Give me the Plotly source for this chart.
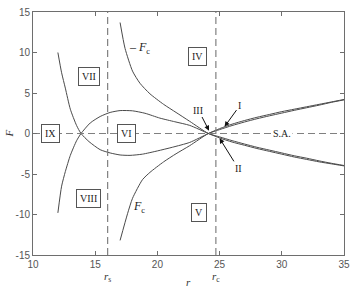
import plotly.graph_objects as go

# ---- data ----
r_A = [12.0, 12.3, 12.6, 13.0, 13.5, 13.86, 14.5, 15.4, 16.2, 17.0, 17.8, 18.8, 20.0, 21.2, 22.6, 24.1,
       25, 26, 27, 28, 29, 30, 31, 32, 33, 34, 35]
F_A = [10.0, 7.5, 5.6, 3.0, 1.0, 0.0, -1.0, -2.0, -2.4, -2.65, -2.7, -2.55, -2.15, -1.7, -1.1, 0.0,
       0.6, 1.15, 1.6, 2.0, 2.35, 2.7, 3.0, 3.3, 3.6, 3.9, 4.2]

r_B = [12.0, 12.3, 12.6, 13.0, 13.5, 13.86, 14.6, 15.4, 16.2, 17.0, 18.0, 19.0, 20.2, 21.4, 22.6, 24.1,
       25, 26, 27, 28, 29, 30, 31, 32, 33, 34, 35]
F_B = [-9.8, -6.5, -4.7, -2.7, -0.9, 0.0, 1.3, 2.1, 2.6, 2.83, 2.8, 2.5, 1.9, 1.45, 1.0, 0.0,
       -0.55, -1.05, -1.45, -1.85, -2.2, -2.55, -2.9, -3.2, -3.5, -3.75, -4.0]

r_Fc_up = [17.0, 17.4, 18.0, 18.6, 19.4, 20.5, 21.5, 22.6, 24.1,
           25, 26, 27, 28, 29, 30, 31, 32, 33, 34, 35]
F_Fc_up = [13.7, 10.5, 7.7, 6.2, 4.9, 3.6, 2.6, 1.5, 0.0,
           -0.42, -0.88, -1.3, -1.7, -2.05, -2.4, -2.75, -3.05, -3.38, -3.68, -3.95]

r_Fc_lo = [17.0, 17.6, 18.0, 18.8, 19.4, 20.5, 21.5, 22.6, 24.1,
           25, 26, 27, 28, 29, 30, 31, 32, 33, 34, 35]
F_Fc_lo = [-13.2, -9.9, -8.0, -5.7, -4.8, -3.5, -2.5, -1.5, 0.0,
           0.48, 0.98, 1.42, 1.82, 2.18, 2.52, 2.86, 3.18, 3.5, 3.85, 4.15]

r_s = 16.0
r_c = 24.7
x_range = [10, 35]
y_range = [-15, 15]
x_ticks = [10, 15, 20, 25, 30, 35]
x_ticklabels = ["10", "15", "20", "25", "30", "35"]
y_ticks = [-15, -10, -5, 0, 5, 10, 15]
y_ticklabels = ["-15", "-10", "-5", "0", "5", "10", "15"]

region_labels = ["VII", "IV", "IX", "VI", "VIII", "V"]
region_r = [14.5, 23.2, 11.4, 17.55, 14.5, 23.35]
region_F = [7.05, 9.5, 0.0, 0.0, -8.0, -9.7]

CURVE = "#4a4a4a"
DASH = "#808080"
AX = "#6e6e6e"
SERIF = "Liberation Serif, Times New Roman, serif"

fig = go.Figure()
for rr, ff in [(r_A, F_A), (r_B, F_B), (r_Fc_up, F_Fc_up), (r_Fc_lo, F_Fc_lo)]:
    fig.add_trace(go.Scatter(x=rr, y=ff, mode="lines",
                             line=dict(color=CURVE, width=1, shape="spline", smoothing=0.6),
                             showlegend=False, hoverinfo="skip"))

# dashed reference lines
fig.add_trace(go.Scatter(x=x_range, y=[0, 0], mode="lines",
                         line=dict(color=DASH, width=1.2, dash="7px,4px"), showlegend=False))
for xv in [r_s, r_c]:
    fig.add_trace(go.Scatter(x=[xv, xv], y=y_range, mode="lines",
                             line=dict(color=DASH, width=1.2, dash="7px,4px"), showlegend=False))

ann = []
for lab, xr, yf in zip(region_labels, region_r, region_F):
    ann.append(dict(x=xr, y=yf, xref="x", yref="y", text=lab, showarrow=False,
                    font=dict(family=SERIF, size=10, color="#222"),
                    bordercolor="#555", borderwidth=1, borderpad=3, bgcolor="white"))

ann.append(dict(x=30.0, y=0, xref="x", yref="y", text="S.A.", showarrow=False,
                font=dict(family=SERIF, size=10, color="#222"), bgcolor="white", borderpad=1))
ann.append(dict(x=18.6, y=10.5, xref="x", yref="y", text="– <i>F</i><sub>c</sub>", showarrow=False,
                font=dict(family=SERIF, size=12, color="#222")))
ann.append(dict(x=18.5, y=-9.1, xref="x", yref="y", text="<i>F</i><sub>c</sub>", showarrow=False,
                font=dict(family=SERIF, size=12, color="#222")))

# arrow labels
for lab, tx, ty, hx, hy in [("III", 23.3, 2.9, 24.15, 0.35),
                            ("I", 26.6, 3.4, 25.4, 0.85),
                            ("II", 26.5, -4.3, 25.0, -0.6)]:
    ann.append(dict(x=hx, y=hy, xref="x", yref="y", ax=tx, ay=ty, axref="x", ayref="y",
                    text=lab, showarrow=True, arrowhead=2, arrowsize=1, arrowwidth=1,
                    arrowcolor="#111", font=dict(family=SERIF, size=10, color="#222")))

# axis annotations
ann.append(dict(x=r_s, y=-0.055, xref="x", yref="paper", text="<i>r</i><sub>s</sub>", showarrow=False,
                yanchor="top", font=dict(family=SERIF, size=11, color="#333")))
ann.append(dict(x=r_c, y=-0.055, xref="x", yref="paper", text="<i>r</i><sub>c</sub>", showarrow=False,
                yanchor="top", font=dict(family=SERIF, size=11, color="#333")))
ann.append(dict(x=0.5, y=-0.145, xref="paper", yref="paper", text="<i>r</i>", showarrow=False,
                yanchor="bottom", font=dict(family=SERIF, size=11, color="#333")))
ann.append(dict(x=-0.08, y=0.5, xref="paper", yref="paper", text="<i>F</i>", showarrow=False,
                textangle=-90, xanchor="center", font=dict(family=SERIF, size=11, color="#333")))

fig.update_layout(
    width=357, height=292, margin=dict(l=33, r=13, t=6, b=37),
    paper_bgcolor="white", plot_bgcolor="white", annotations=ann,
    xaxis=dict(range=x_range, tickvals=x_ticks, ticktext=x_ticklabels, showgrid=False, zeroline=False,
               showline=True, linecolor=AX, linewidth=1, mirror="ticks", ticks="inside", ticklen=4,
               tickcolor=AX, tickfont=dict(family="Liberation Sans, Arial", size=10, color="#555")),
    yaxis=dict(range=y_range, tickvals=y_ticks, ticktext=y_ticklabels, showgrid=False, zeroline=False,
               showline=True, linecolor=AX, linewidth=1, mirror="ticks", ticks="inside", ticklen=4,
               tickcolor=AX, tickfont=dict(family="Liberation Sans, Arial", size=10, color="#555")),
)
fig.write_html("out.html")
